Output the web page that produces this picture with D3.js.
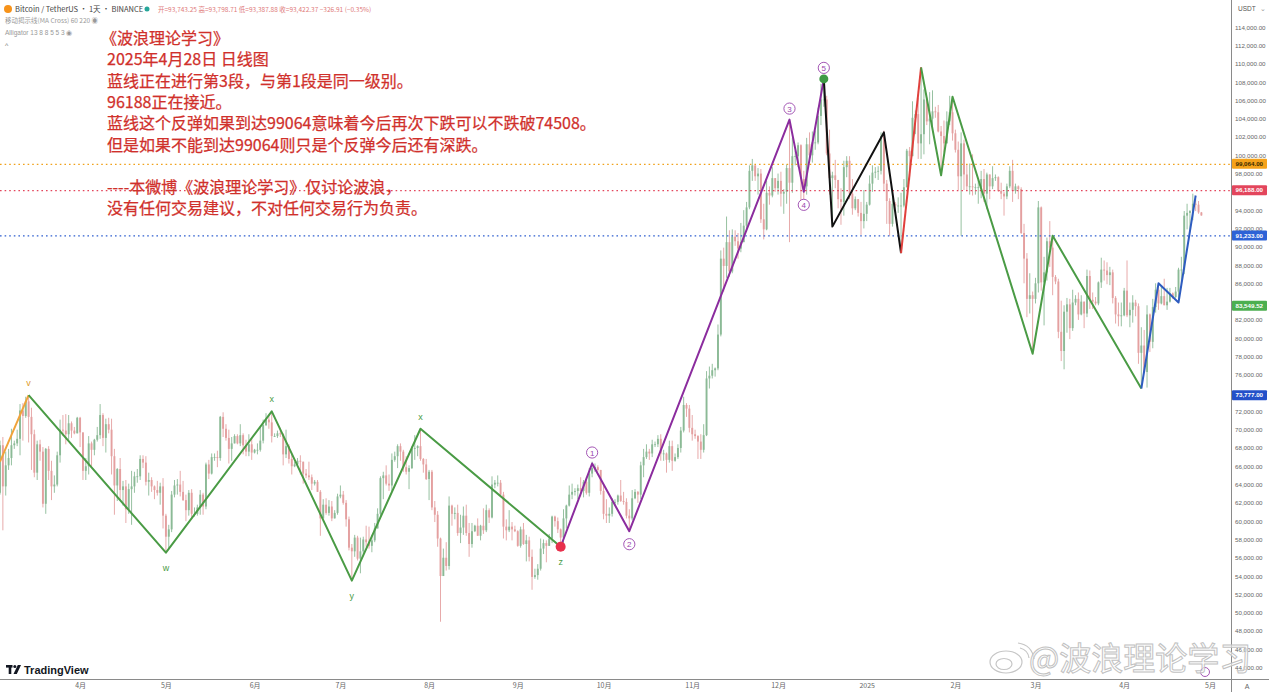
<!DOCTYPE html>
<html>
<head>
<meta charset="utf-8">
<script src="https://d3js.org/d3.v7.min.js"></script>
<style>
  body { margin: 0; background: #fff; }
  svg { display: block; font-family: "Liberation Sans", Arial, sans-serif; }
</style>
</head>
<body>
<svg width="1269" height="692"></svg>
<script>
// BTC/USDT daily, values in thousands, first candle 2024-03-04
var startDay = "2024-03-04";
var firstOpen = 63.1;

var closes = [
  // 2024-03
  68.3,63.8,66.1,66.9,68.3,68.5,69.0,72.1,71.5,73.1,71.4,69.5,65.3,68.4,67.6,61.9,67.9,65.5,63.8,64.0,67.2,70.0,69.9,69.5,70.7,69.9,69.6,71.3,
  // 2024-04
  69.7,65.5,66.0,68.5,67.8,68.9,69.4,71.6,69.1,70.6, 70.0,67.1,63.9,65.7,63.4,63.8,61.3,63.5,63.8,64.9, 64.9,66.8,66.4,64.3,64.5,63.8,63.4,63.1,63.8,60.6,
  // 2024-05
  58.3,59.1,62.9,63.9,64.0,63.2,62.3,61.2,63.1,60.8, 60.8,61.5,62.9,61.6,66.2,65.2,67.0,67.0,66.9,71.4, 70.1,69.1,67.9,68.5,69.3,68.5,69.4,68.3,67.6,68.4, 67.5,
  // 2024-06
  67.8,67.8,68.8,70.5,71.1,70.8,69.3,69.3,69.6,69.5, 67.3,68.2,66.8,66.0,66.2,66.6,66.5,65.2,65.0,64.8, 64.1,64.3,63.2,60.3,61.8,60.9,61.6,60.3,60.9,62.7,
  // 2024-07
  62.9,62.0,60.2,57.1,56.7,58.2,55.9,56.7,58.0,57.7, 57.3,57.9,59.2,60.8,64.7,65.0,64.1,63.9,66.7,67.1, 68.2,67.6,65.9,65.4,65.8,67.9,68.0,68.2,66.8,66.2, 64.6,
  // 2024-08
  65.4,61.5,60.7,58.1,54.0,56.0,55.1,61.7,60.8,60.9, 58.7,59.3,60.6,58.7,57.5,58.9,59.5,58.4,59.5,59.0, 61.2,60.4,64.0,64.2,64.2,62.9,59.4,59.0,59.4,59.1, 58.9,
  // 2024-09
  57.3,59.1,57.5,57.9,56.1,53.9,54.1,54.8,57.0,57.6, 57.3,58.1,60.5,60.0,59.1,58.2,60.3,61.7,62.9,63.2, 63.3,63.6,63.3,64.3,63.1,65.2,65.8,65.9,65.6,63.3,
  // 2024-10
  60.8,60.6,60.8,62.1,62.1,62.8,62.2,62.1,60.6,60.3, 62.5,63.2,62.9,66.1,67.0,67.6,67.4,68.4,68.4,69.0, 67.4,67.4,66.7,68.2,66.6,67.0,68.0,69.9,72.7,72.3, 70.2,
  // 2024-11
  69.5,69.3,68.7,67.8,69.4,75.6,75.9,76.5,76.7,80.4, 88.7,87.9,90.5,87.3,91.1,90.6,89.8,90.5,92.3,94.3, 98.3,98.9,97.7,98.0,93.0,91.9,95.9,95.6,97.5,96.4,
  // 2024-12
  97.2,95.8,96.0,98.6,97.0,99.9,99.9,101.1,97.4,96.6, 101.2,100.0,101.4,101.4,104.3,106.1,106.1,100.2,97.5,97.8, 97.3,95.2,94.9,98.7,99.4,95.8,94.2,95.2,93.7,92.8, 93.6,
  // 2025-01
  94.6,96.9,98.1,98.2,98.3,102.1,96.9,95.0,92.5,94.7, 94.5,94.5,94.5,96.5,100.5,99.9,104.1,104.5,101.3,102.3, 106.1,103.7,104.0,104.8,104.7,102.6,102.1,101.3,103.7,104.7, 102.4,
  // 2025-02
  100.6,97.7,101.3,97.9,96.6,96.6,96.5,96.5,96.5,97.4, 95.8,97.9,96.6,97.5,97.6,96.1,95.8,95.5,96.6,98.3, 96.1,96.6,96.3,91.5,88.7,84.3,84.7,84.3,
  // 2025-03
  86.0,94.3,86.1,87.2,90.6,89.9,86.7,86.2,80.7,78.6, 82.9,83.7,81.1,83.9,84.3,82.6,84.0,82.7,86.8,84.2, 84.0,83.8,86.1,87.5,87.4,86.9,87.2,84.4,82.6,82.4, 82.5,
  // 2025-04
  85.2,82.5,83.1,83.9,83.5,78.4,79.2,76.3,82.6,79.6, 83.4,85.3,83.8,84.6,83.6,84.0,84.9,84.5,85.1,87.5, 87.5,93.4,93.7,93.9,94.7,94.6,93.75,93.42
];

var highs = [
  68.8,69.2,67.6,67.9,70.1,68.8,70.0,72.8,72.9,73.6,73.78,72.4,70.0,68.8,68.9,68.1,68.0,68.2,66.6,65.0,67.6,71.1,71.6,71.7,71.6,70.9,70.3,71.4,
  71.4,69.7,66.9,69.3,68.7,69.0,70.3,72.8,71.8,71.2, 71.3,71.2,67.9,65.8,66.9,64.4,64.5,64.1,65.5,65.4, 65.7,67.2,67.2,67.1,65.3,64.8,63.9,64.4,64.2,64.7,
  60.8,59.6,63.3,64.5,64.6,65.5,64.4,62.9,63.4,63.5, 61.5,61.8,63.4,63.1,66.4,66.7,67.4,67.4,67.7,71.5, 71.9,70.6,70.0,69.2,69.5,69.5,70.6,69.6,68.9,69.5, 69.0,
  67.9,68.5,70.3,71.1,71.8,71.6,72.0,69.6,69.9,70.2, 69.6,70.0,68.4,67.4,66.5,66.9,67.2,66.1,65.7,66.5, 65.1,64.5,64.5,63.4,62.4,62.5,62.3,62.2,61.2,63.0,
  63.9,63.3,62.3,60.5,57.5,58.5,58.4,58.2,58.3,59.5, 59.4,58.5,59.8,61.4,64.9,65.4,66.1,65.1,67.4,67.6, 68.4,68.5,67.8,67.1,66.1,68.2,69.4,68.3,70.1,66.9, 66.8,
  65.6,65.6,62.2,61.1,58.2,57.0,57.7,62.7,61.8,61.5, 61.8,60.7,61.6,61.8,59.8,59.8,59.6,60.3,59.6,61.4, 61.8,61.4,64.9,64.5,65.0,64.5,63.2,60.2,61.2,59.9, 59.5,
  59.0,59.4,59.8,58.5,58.3,56.9,54.8,55.3,58.1,58.0, 57.9,58.6,60.6,60.6,60.4,59.2,61.3,61.8,63.9,64.1, 63.6,64.0,64.8,64.5,64.8,65.8,66.5,66.3,66.1,65.6,
  64.1,62.4,61.5,62.5,62.4,62.9,64.5,63.2,62.5,61.3, 63.4,63.5,63.3,66.5,67.9,68.4,67.9,68.9,68.7,69.4, 69.5,67.8,67.5,68.8,68.8,67.4,68.4,70.3,73.6,72.9, 72.7,
  71.6,70.0,69.4,69.5,70.6,76.4,76.9,77.2,76.8,81.5, 89.6,89.9,93.3,91.8,91.9,91.8,91.5,92.6,94.0,94.9, 98.9,99.6,98.8,98.6,98.5,94.7,97.2,96.6,98.7,97.5,
  98.0,98.2,96.3,99.0,103.9,101.9,100.5,101.4,101.2,98.3, 101.9,102.5,102.6,102.7,105.2,107.8,108.35,106.5,102.8,98.2, 99.5,97.3,96.4,99.4,99.9,99.9,97.4,95.5,95.2,94.9, 96.2,
  94.9,97.8,98.9,98.7,98.8,102.5,102.7,97.3,95.3,95.8, 94.9,95.4,95.9,97.4,100.7,100.9,105.9,104.9,106.3,109.6, 107.2,106.3,106.9,107.1,105.3,105.5,103.2,103.8,104.8,106.5, 106.4,
  102.8,101.5,102.5,101.7,99.0,99.1,100.1,96.9,97.3,98.3, 98.5,98.1,97.9,98.8,97.9,97.7,97.0,96.0,96.9,98.8, 99.5,96.9,96.7,96.5,92.5,89.3,87.1,85.1,
  86.6,95.0,94.4,88.9,91.0,92.8,91.2,86.9,86.5,84.1, 83.6,84.4,84.3,85.3,84.7,85.0,84.7,84.0,87.5,87.4, 85.0,84.5,86.2,88.8,88.5,88.3,87.8,87.5,84.6,83.9, 83.9,
  85.5,88.5,83.9,84.7,84.2,83.8,81.2,80.9,83.6,82.7, 84.3,86.0,86.0,85.8,86.5,85.5,85.5,85.0,85.6,87.7, 88.9,93.9,94.7,94.0,95.8,95.2,95.0,93.8
];

var lows = [
  62.9,59.0,62.8,65.6,66.1,67.9,68.2,67.2,68.8,71.3,68.6,65.6,64.8,64.5,66.6,61.5,60.8,64.5,62.3,63.1,63.8,66.4,69.3,68.4,68.9,69.1,69.5,69.6,
  68.1,64.5,64.5,65.1,66.0,67.2,68.7,69.0,68.2,67.5, 69.6,65.1,60.7,62.2,62.3,61.7,59.8,60.8,59.6,63.1, 64.2,64.5,65.8,63.9,62.8,63.2,62.4,62.8,61.8,59.2,
  56.55,56.9,58.8,62.6,62.9,62.7,62.2,60.0,60.6,60.2, 60.5,60.6,60.7,60.7,61.3,64.6,65.1,66.6,65.9,66.6, 69.2,68.8,66.3,66.6,68.5,68.4,68.2,67.3,67.1,67.1, 66.7,
  67.4,67.3,67.6,68.5,70.4,70.1,68.6,69.2,69.1,69.2, 66.1,66.9,66.3,65.1,65.9,66.0,65.1,64.1,64.7,64.5, 63.4,63.9,63.2,58.4,60.3,60.7,60.6,60.0,60.3,60.7,
  62.5,61.8,59.4,56.8,53.5,56.1,55.7,54.3,56.3,57.2, 57.0,56.6,57.7,59.3,60.6,62.4,63.9,63.3,63.3,66.5, 65.8,66.6,65.4,65.1,63.5,65.7,66.7,67.1,66.6,65.3, 64.5,
  62.3,61.2,59.9,57.2,49.0,54.0,54.6,54.7,59.5,60.2, 58.4,57.6,58.5,58.4,56.1,57.1,58.8,58.4,57.9,58.6, 58.8,59.8,60.3,63.6,63.8,62.8,58.1,57.9,58.8,57.9, 58.8,
  57.2,57.1,57.4,55.6,55.6,52.5,53.7,53.6,54.6,56.4, 55.5,57.3,57.6,59.4,58.7,57.5,57.6,59.2,61.6,62.4, 62.8,62.4,62.7,62.6,62.9,62.7,64.8,65.4,65.4,62.9,
  60.2,59.8,59.8,60.5,61.7,61.8,62.1,61.8,60.3,58.9, 60.1,62.4,62.0,62.4,64.8,66.8,66.7,67.0,68.1,68.1, 66.6,66.6,65.3,66.4,65.5,66.5,66.8,67.5,69.7,71.4, 69.7,
  68.8,69.0,66.8,66.8,67.5,69.3,74.5,75.6,75.8,76.5, 80.2,85.1,86.6,86.7,87.1,90.1,88.7,89.4,90.9,91.6, 94.1,97.2,97.2,95.7,92.6,90.8,91.8,94.6,95.4,96.0,
  95.7,94.4,93.6,94.7,90.5,95.9,98.9,98.7,94.2,94.2, 95.7,99.3,99.2,100.6,101.2,103.3,105.3,100.0,95.7,92.2, 96.4,94.2,92.4,93.4,97.6,95.2,93.5,94.0,93.3,91.3, 92.0,
  92.8,94.5,96.0,97.5,97.3,97.9,96.1,92.5,91.2,92.2, 93.8,93.7,89.3,94.3,96.5,97.3,99.9,102.3,99.6,99.6, 100.1,103.3,101.2,102.8,104.1,102.5,97.8,100.3,101.3,103.3, 101.6,
  100.3,96.2,91.2,96.2,96.1,95.7,95.6,95.7,94.7,95.3, 94.9,94.1,95.2,96.3,97.2,96.0,95.2,93.4,95.2,96.4, 94.9,95.8,95.2,91.4,86.0,82.3,82.7,78.3,
  83.8,85.0,85.2,81.4,86.3,87.8,84.7,85.9,80.0,77.5, 76.6,80.6,79.9,80.8,83.6,82.0,82.5,81.1,82.3,83.2, 83.2,83.6,83.6,85.5,86.3,85.9,85.8,83.8,81.6,81.3, 81.3,
  82.4,82.3,81.2,81.7,82.4,77.2,74.5,76.2,74.6,78.5, 78.9,82.8,83.1,83.7,83.6,83.1,83.9,84.3,84.4,83.9, 85.9,87.0,91.9,91.7,92.9,93.9,93.6,93.39
];

var monthTicks = ["2024-04-01","2024-05-01","2024-06-01","2024-07-01","2024-08-01","2024-09-01","2024-10-01",
  "2024-11-01","2024-12-01","2025-01-01","2025-02-01","2025-03-01","2025-04-01","2025-05-01"];
var monthLabels = ["4月","5月","6月","7月","8月","9月","10月","11月","12月","2025","2月","3月","4月","5月"];

var priceLines = [99064, 96188, 91233];
var axisBadges = [99064, 96188, 91233, 83549.52, 73777];

// wave pivots [date, price in thousands]
var waveOrange = [["2024-03-04",66.5],["2024-03-14",73.78]];
var waveGreenA = [["2024-03-14",73.78],["2024-05-01",56.55],["2024-06-07",72.0],["2024-07-05",53.5],["2024-07-29",70.1],["2024-09-16",57.2]];
var wavePurple = [["2024-09-16",57.2],["2024-09-27",66.3],["2024-10-10",58.9],["2024-12-05",103.9],["2024-12-10",96.0],["2024-12-17",108.35]];
var waveBlack = [["2024-12-17",108.35],["2024-12-20",92.2],["2025-01-07",102.5],["2025-01-13",89.3]];
var waveRed = [["2025-01-13",89.3],["2025-01-20",109.6]];
var waveGreenB = [["2025-01-20",109.6],["2025-01-27",97.8],["2025-01-31",106.4],["2025-02-28",78.3],["2025-03-07",91.2],["2025-04-07",74.5]];
var waveBlue = [["2025-04-07",74.5],["2025-04-13",86.0],["2025-04-20",83.9],["2025-04-26",95.6]];

var letterNames = ["v","w","x","y","x","z"];
var numberNames = ["1","2","3","4","5"];

var notes = [
  "《波浪理论学习》",
  "2025年4月28日 日线图",
  "蓝线正在进行第3段，与第1段是同一级别。",
  "96188正在接近。",
  "蓝线这个反弹如果到达99064意味着今后再次下跌可以不跌破74508。",
  "但是如果不能到达99064则只是个反弹今后还有深跌。",
  "",
  "----本微博《波浪理论学习》仅讨论波浪，",
  "没有任何交易建议，不对任何交易行为负责。"
];

var svg = d3.select("svg"),
    width = +svg.attr("width"),
    height = +svg.attr("height"),
    plotRight = 1230,
    plotBottom = 679;

var parse = d3.utcParse("%Y-%m-%d");

var x = d3.scaleUtc()
    .domain([parse("2024-03-04"), parse("2025-05-08")])
    .range([0, plotRight]);

var y = d3.scaleLinear()
    .domain([44000, 112000])
    .range([667.5, 45.5]);

svg.append("rect").attr("width", width).attr("height", height).attr("fill", "#fff");

svg.append("defs").append("clipPath").attr("id", "plot")
  .append("rect").attr("width", plotRight).attr("height", plotBottom);

var candles = closes.map(function(c, i) {
  var o = i ? closes[i - 1] : firstOpen;
  return {
    date: d3.utcDay.offset(parse(startDay), i),
    open: o * 1000,
    close: c * 1000,
    high: Math.max(highs[i], o, c) * 1000,
    low: Math.min(lows[i], o, c) * 1000
  };
});

var plot = svg.append("g").attr("clip-path", "url(#plot)");

var upColor = "#8bba96", downColor = "#e4a0a0";

var cg = plot.append("g").selectAll("g")
  .data(candles)
  .enter().append("g");

cg.append("line")
    .attr("x1", function(d) { return x(d.date); })
    .attr("x2", function(d) { return x(d.date); })
    .attr("y1", function(d) { return y(d.high); })
    .attr("y2", function(d) { return y(d.low); })
    .attr("stroke", function(d) { return d.close >= d.open ? upColor : downColor; })
    .attr("stroke-width", 0.9);

cg.append("rect")
    .attr("x", function(d) { return x(d.date) - 0.95; })
    .attr("width", 1.9)
    .attr("y", function(d) { return y(Math.max(d.open, d.close)); })
    .attr("height", function(d) { return Math.max(0.8, Math.abs(y(d.open) - y(d.close))); })
    .attr("fill", function(d) { return d.close >= d.open ? upColor : downColor; });

// horizontal price lines
var lineColors = ["#f0a21c", "#e3465c", "#2f5fcf"];
plot.selectAll(".pline")
  .data(priceLines)
  .enter().append("line")
    .attr("x1", 0).attr("x2", plotRight)
    .attr("y1", function(d) { return y(d) + 0.5; })
    .attr("y2", function(d) { return y(d) + 0.5; })
    .attr("stroke", function(d, i) { return lineColors[i]; })
    .attr("stroke-width", 1.3)
    .attr("stroke-dasharray", "1.6,3");

// wave lines
var waveLine = d3.line()
    .x(function(d) { return x(parse(d[0])); })
    .y(function(d) { return y(d[1] * 1000); });

[[waveOrange, "#f0a33a"], [waveGreenA, "#4a9b45"], [wavePurple, "#8b2c9e"], [waveBlack, "#111"],
 [waveRed, "#e0403c"], [waveGreenB, "#4a9b45"], [waveBlue, "#2e5cc0"]].forEach(function(w) {
  plot.append("path")
    .datum(w[0])
    .attr("d", waveLine)
    .attr("fill", "none")
    .attr("stroke", w[1])
    .attr("stroke-width", 2)
    .attr("stroke-linejoin", "round");
});

function isPeak(p) {
  var i = d3.utcDay.count(parse(startDay), parse(p[0]));
  var hi = highs[i], lo = lows[i];
  if (hi === undefined) return true;
  return Math.abs(p[1] - hi) <= Math.abs(p[1] - lo);
}

// markers at z and wave 5
var zPt = waveGreenA[waveGreenA.length - 1], fivePt = wavePurple[wavePurple.length - 1];
plot.append("circle").attr("cx", x(parse(zPt[0]))).attr("cy", y(zPt[1] * 1000)).attr("r", 5).attr("fill", "#e8304c");
plot.append("circle").attr("cx", x(parse(fivePt[0]))).attr("cy", y(fivePt[1] * 1000)).attr("r", 4.5).attr("fill", "#3f9a45");

// letter labels
var letterPts = waveGreenA.map(function(p, i) { return [p[0], p[1], letterNames[i]]; });
svg.append("g").selectAll("text")
  .data(letterPts)
  .enter().append("text")
    .attr("x", function(d) { return x(parse(d[0])); })
    .attr("y", function(d) { return y(d[1] * 1000) + (isPeak(d) ? -9 : 18); })
    .attr("text-anchor", "middle")
    .attr("font-size", 9)
    .attr("fill", function(d, i) { return i === 0 ? "#e09a2a" : "#4a9b45"; })
    .text(function(d) { return d[2]; });

// circled numbers
var numberPts = wavePurple.slice(1).map(function(p, i) { return [p[0], p[1], numberNames[i]]; });
var ng = svg.append("g").selectAll("g")
  .data(numberPts)
  .enter().append("g")
    .attr("transform", function(d) {
      return "translate(" + x(parse(d[0])) + "," + (y(d[1] * 1000) + (isPeak(d) ? -11 : 13)) + ")";
    });
ng.append("circle").attr("r", 5.6).attr("fill", "#fff").attr("stroke", "#9a45ad").attr("stroke-width", 0.9);
ng.append("text").attr("y", 3).attr("text-anchor", "middle").attr("font-size", 8).attr("fill", "#9a45ad")
  .text(function(d) { return d[2]; });

// stray label at bottom right
svg.append("circle").attr("cx", 1205).attr("cy", 672).attr("r", 4.5).attr("fill", "none")
  .attr("stroke", "#9a45ad").attr("stroke-width", 0.9);

// right price axis
svg.append("line").attr("x1", plotRight + 1.5).attr("x2", plotRight + 1.5).attr("y1", 0).attr("y2", height)
  .attr("stroke", "#8a8a8a").attr("stroke-width", 1);

var ticks = d3.range(44000, 114001, 2000).filter(function(t) {
  return axisBadges.every(function(b) { return Math.abs(y(t) - y(b)) >= 7; });
});
var yAxis = d3.axisRight(y).tickValues(ticks).tickSize(0).tickPadding(0).tickFormat(d3.format(",.2f"));
var ya = svg.append("g").attr("transform", "translate(" + (plotRight + 5) + ",0)").call(yAxis);
ya.select(".domain").remove();
ya.selectAll("text").attr("font-size", 6.2).attr("fill", "#666").attr("font-family", "Liberation Sans, Arial, sans-serif");

svg.append("text").attr("x", 1238).attr("y", 11).attr("font-size", 6.5).attr("fill", "#555").text("USDT");
svg.append("text").attr("x", 1260).attr("y", 11).attr("font-size", 6.5).attr("fill", "#999").text("⌄");

var badgeFill = ["#f5a21a", "#e3455c", "#2d62d6", "#4caf50", "#2451c9"];
var badgeText = ["#3a2a00", "#fff", "#fff", "#fff", "#fff"];
var bg = svg.append("g").selectAll("g")
  .data(axisBadges)
  .enter().append("g")
    .attr("transform", function(d) { return "translate(" + (plotRight + 2) + "," + y(d) + ")"; });
bg.append("rect").attr("x", 0).attr("y", -5).attr("width", 35).attr("height", 10).attr("rx", 1)
  .attr("fill", function(d, i) { return badgeFill[i]; });
bg.append("text").attr("x", 3.5).attr("y", 2.3).attr("font-size", 6.2).attr("font-weight", "bold")
  .attr("fill", function(d, i) { return badgeText[i]; })
  .text(function(d) { return d3.format(",.2f")(d); });

// bottom time axis
svg.append("line").attr("x1", 0).attr("x2", width).attr("y1", plotBottom + 0.5).attr("y2", plotBottom + 0.5)
  .attr("stroke", "#8a8a8a").attr("stroke-width", 1);
var xAxis = d3.axisBottom(x)
    .tickValues(monthTicks.map(parse))
    .tickSize(0).tickPadding(0)
    .tickFormat(function(d, i) { return monthLabels[i]; });
var xa = svg.append("g").attr("transform", "translate(0," + (plotBottom + 4) + ")").call(xAxis);
xa.select(".domain").remove();
xa.selectAll("text").attr("font-size", 7).attr("fill", "#666").attr("font-family", "Noto Sans CJK SC, sans-serif");
svg.append("text").attr("x", 1247).attr("y", 689).attr("text-anchor", "middle").attr("font-size", 7).attr("fill", "#666").text("A");

// header
svg.append("circle").attr("cx", 8).attr("cy", 9).attr("r", 4).attr("fill", "#f7931a");
svg.append("text").attr("x", 15).attr("y", 11.5).attr("font-size", 7.5).attr("fill", "#444")
  .attr("font-family", "Noto Sans CJK SC, sans-serif").text("Bitcoin / TetherUS · 1天 · BINANCE");
svg.append("circle").attr("cx", 147).attr("cy", 9).attr("r", 2.5).attr("fill", "#26a69a");
svg.append("text").attr("x", 158).attr("y", 11.5).attr("font-size", 6.5).attr("fill", "#e07a7a")
  .attr("font-family", "Noto Sans CJK SC, sans-serif")
  .text("开=93,743.25  高=93,798.71  低=93,387.88  收=93,422.37  −326.91 (−0.35%)");
svg.append("text").attr("x", 5).attr("y", 23).attr("font-size", 6.5).attr("fill", "#999")
  .attr("font-family", "Noto Sans CJK SC, sans-serif").text("移动揭示线(MA Cross) 60 220  ◉");
svg.append("text").attr("x", 5).attr("y", 35).attr("font-size", 6.5).attr("fill", "#999")
  .text("Alligator 13 8 8 5 5 3  ◉");
svg.append("text").attr("x", 5).attr("y", 48).attr("font-size", 7).attr("fill", "#777").text("^");

// annotation text
svg.append("g").selectAll("text")
  .data(notes)
  .enter().append("text")
    .attr("x", function(d, i) { return i === 0 ? 101 : 107; })
    .attr("y", function(d, i) { return 44 + i * 21.3; })
    .attr("font-size", 16)
    .attr("fill", "#d0302b")
    .attr("stroke", "#d0302b")
    .attr("stroke-width", 0.25)
    .attr("font-family", "Noto Sans CJK SC, sans-serif")
    .text(function(d) { return d; });

// TradingView logo
var tv = svg.append("g").attr("fill", "#131722");
tv.append("rect").attr("x", 6).attr("y", 665).attr("width", 6.5).attr("height", 2.6);
tv.append("rect").attr("x", 8.7).attr("y", 665).attr("width", 2.6).attr("height", 9);
tv.append("circle").attr("cx", 14.8).attr("cy", 666.5).attr("r", 1.5);
tv.append("path").attr("d", "M13.5,674 L17.8,665 L21,665 L16.8,674 Z");
svg.append("text").attr("x", 24).attr("y", 673.5).attr("font-size", 11).attr("font-weight", "bold")
  .attr("fill", "#131722").text("TradingView");

// weibo watermark
var wm = svg.append("g").attr("fill", "none").attr("stroke", "#c6c6c6").attr("stroke-width", 1.2);
wm.append("ellipse").attr("cx", 1006).attr("cy", 662).attr("rx", 16).attr("ry", 11);
wm.append("ellipse").attr("cx", 1004).attr("cy", 664).attr("rx", 8).attr("ry", 5.5);
wm.append("path").attr("d", "M1020,648 q8,2 9,10");
wm.append("path").attr("d", "M1018,643 q14,2 16,16");
svg.append("text").attr("x", 1029).attr("y", 670).attr("font-size", 32)
  .attr("font-family", "Noto Sans CJK SC, sans-serif")
  .attr("fill", "rgba(255,255,255,0.6)").attr("stroke", "#c2c2c2").attr("stroke-width", 1)
  .text("@波浪理论学习");
</script>
</body>
</html>
